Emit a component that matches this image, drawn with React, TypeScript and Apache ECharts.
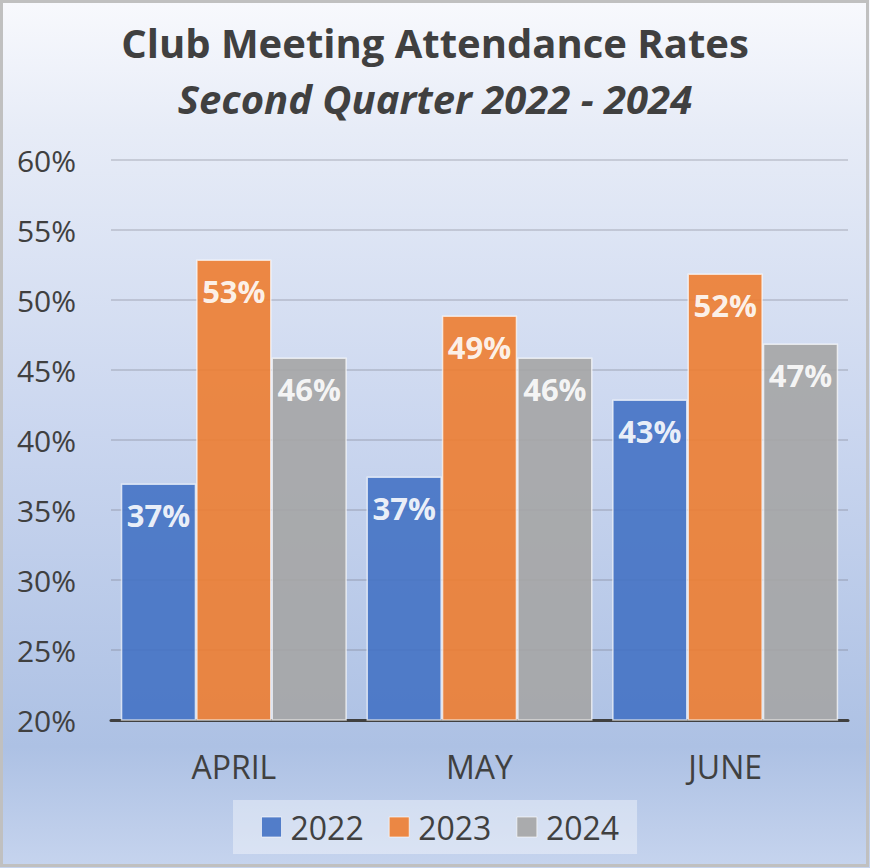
import React, { useEffect, useRef } from "react";
import * as echarts from "echarts";

const categories = ["APRIL", "MAY", "JUNE"];
const seriesNames = ["2022", "2023", "2024"];
const values2022 = [36.9, 37.4, 42.9];
const values2023 = [52.9, 48.9, 51.9];
const values2024 = [45.9, 45.9, 46.9];
const seriesColors = ["#4472C4", "#ED7D31", "#A5A5A5"];
const titleText = "Club Meeting Attendance Rates";
const subtitleText = "Second Quarter 2022 - 2024";

export default function App() {
  const ref = useRef<HTMLDivElement>(null);
  useEffect(() => {
    document.body.style.margin = "0";
    if (!ref.current) return;
    const chart = echarts.init(ref.current, null, { renderer: "svg" });
    const font = "'Open Sans', 'Noto Sans', sans-serif";
    const data = [values2022, values2023, values2024];
    chart.setOption({
      animation: false,
      backgroundColor: {
        type: "linear",
        x: 0,
        y: 0,
        x2: 0,
        y2: 1,
        colorStops: [
          { offset: 0, color: "#f8f9fd" },
          { offset: 0.15, color: "#e7ecf7" },
          { offset: 0.5, color: "#cad6ef" },
          { offset: 0.86, color: "#adc1e4" },
          { offset: 1, color: "#c6d4ee" },
        ],
      },
      textStyle: { fontFamily: font },
      graphic: [
        {
          type: "rect",
          shape: { x: 1.5, y: 1.5, width: 866, height: 864 },
          style: { fill: "none", stroke: "#c0c0c0", lineWidth: 3 },
          z: 100,
        },
        {
          type: "text",
          x: 435,
          y: 42,
          style: {
            text: titleText,
            fontFamily: font,
            fontSize: 40,
            fontWeight: "bold",
            fill: "#404040",
            align: "center",
            verticalAlign: "middle",
          },
        },
        {
          type: "text",
          x: 435,
          y: 98.5,
          style: {
            text: subtitleText,
            fontFamily: font,
            fontSize: 40,
            fontWeight: "bold",
            fontStyle: "italic",
            fill: "#404040",
            align: "center",
            verticalAlign: "middle",
          },
        },
      ],
      grid: { left: 111, right: 22, top: 160, bottom: 148 },
      legend: {
        data: seriesNames,
        top: 800,
        left: 233,
        icon: "rect",
        backgroundColor: "rgba(255,255,255,0.38)",
        padding: [11, 18, 11, 28],
        itemWidth: 20,
        itemHeight: 20,
        itemGap: 25,
        itemStyle: { borderColor: "rgba(255,255,255,0.7)", borderWidth: 1 },
        textStyle: {
          fontSize: 32,
          color: "#404040",
          fontFamily: font,
          padding: [0, 0, 0, 4],
        },
      },
      xAxis: {
        type: "category",
        data: categories,
        axisLine: { lineStyle: { color: "#404040", width: 3 } },
        axisTick: { show: false },
        axisLabel: { fontSize: 32, color: "#404040", margin: 30, fontFamily: font },
      },
      yAxis: {
        type: "value",
        min: 20,
        max: 60,
        interval: 5,
        axisLine: { show: false },
        axisTick: { show: false },
        axisLabel: {
          formatter: "{value}%",
          fontSize: 30,
          color: "#404040",
          margin: 35,
          fontFamily: font,
        },
        splitLine: { lineStyle: { color: "rgba(110,110,125,0.33)", width: 1.5 } },
      },
      series: seriesNames.map((name, i) => ({
        name,
        type: "bar",
        data: data[i],
        barGap: "0%",
        barCategoryGap: "8%",
        itemStyle: {
          color: seriesColors[i],
          opacity: 0.9,
          borderColor: "rgba(255,255,255,0.75)",
          borderWidth: 1.5,
        },
        label: {
          show: true,
          position: "insideTop",
          distance: 16,
          formatter: (p: any) => Math.round(p.value) + "%",
          color: "#ffffff",
          fontSize: 31,
          fontWeight: "bold",
          fontFamily: font,
        },
      })),
    });
    return () => chart.dispose();
  }, []);
  return <div ref={ref} style={{ width: 870, height: 868 }} />;
}
